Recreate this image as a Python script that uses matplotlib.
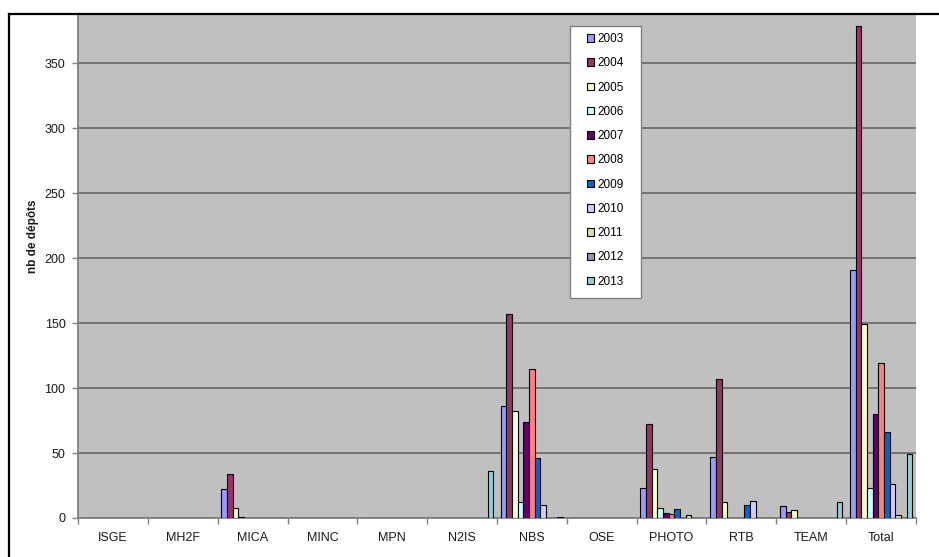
import matplotlib
matplotlib.use("Agg")
import matplotlib.pyplot as plt
from matplotlib.lines import Line2D
from matplotlib.patches import Rectangle
import numpy as np

plt.rcParams['font.family'] = ['Liberation Sans', 'DejaVu Sans']

categories = ["ISGE", "MH2F", "MICA", "MINC", "MPN", "N2IS", "NBS", "OSE",
              "PHOTO", "RTB", "TEAM", "Total"]
years = ["2003", "2004", "2005", "2006", "2007", "2008", "2009", "2010",
         "2011", "2012", "2013"]

# values per year, one entry per category (same order as categories)
v2003 = [0, 0, 22, 0, 0, 0, 86, 0, 23, 47, 9, 191]
v2004 = [0, 0, 34, 0, 0, 0, 157, 0, 72, 107, 5, 379]
v2005 = [0, 0, 8, 0, 0, 0, 82, 0, 38, 12, 6, 149]
v2006 = [0, 0, 1, 0, 0, 0, 12, 0, 8, 0, 0, 23]
v2007 = [0, 0, 0, 0, 0, 0, 74, 0, 4, 0, 0, 80]
v2008 = [0, 0, 0, 0, 0, 0, 115, 0, 3, 0, 0, 119]
v2009 = [0, 0, 0, 0, 0, 0, 46, 0, 7, 10, 0, 66]
v2010 = [0, 0, 0, 0, 0, 0, 10, 0, 0, 13, 0, 26]
v2011 = [0, 0, 0, 0, 0, 0, 0, 0, 2, 0, 0, 2]
v2012 = [0, 0, 0, 0, 0, 0, 0, 0, 0, 0, 0, 0]
v2013 = [0, 0, 0, 0, 0, 36, 1, 0, 0, 0, 12, 49]

series = [v2003, v2004, v2005, v2006, v2007, v2008, v2009, v2010,
          v2011, v2012, v2013]
colors = ["#9999FF", "#993366", "#FFFFCC", "#CCFFFF", "#660066", "#FF8080",
          "#0066CC", "#CCCCFF", "#D6DFA6", "#9F8FB8", "#93CDDD"]

W, H = 939, 557
fig = plt.figure(figsize=(W / 100, H / 100), dpi=100)
ax = fig.add_axes([78/W, 1 - 518/H, (916 - 78)/W, (518 - 14)/H])
ax.set_facecolor("#C0C0C0")

x = np.arange(len(categories))
w = 0.081
n = len(series)
for j, (vals, c, yr) in enumerate(zip(series, colors, years)):
    ax.bar(x + (j - (n - 1) / 2) * w, vals, width=w, color=c,
           edgecolor="black", linewidth=0.8, label=yr, zorder=3)

ax.set_xlim(-0.5, len(categories) - 0.5)
ax.set_ylim(0, 388)
ax.set_yticks(np.arange(0, 351, 50))
ax.yaxis.grid(True, color="#6E6E6E", linewidth=1.3, zorder=1)
ax.set_axisbelow(True)

# category boundaries as major ticks, labels at centres as minor ticks
ax.set_xticks(np.arange(-0.5, len(categories) - 0.49, 1.0))
ax.set_xticklabels([])
ax.set_xticks(x, minor=True)
ax.set_xticklabels(categories, minor=True)
ax.tick_params(axis="x", which="major", length=4, color="#808080", width=1)
ax.tick_params(axis="x", which="minor", length=0, pad=10, labelsize=9,
               labelcolor="#1A1A1A")
ax.tick_params(axis="y", length=4, color="#808080", width=1, pad=5,
               labelsize=9, labelcolor="#1A1A1A")

for s in ["top", "right"]:
    ax.spines[s].set_visible(False)
for s in ["left", "bottom"]:
    ax.spines[s].set_color("#808080")
    ax.spines[s].set_linewidth(1.3)

ax.set_ylabel("nb de dépôts", fontsize=8.5, fontweight="bold", color="#1A1A1A")
ax.yaxis.set_label_coords(-0.046, 0.56)

# legend frame drawn separately, legend entries without frame
frame = Rectangle((570/W, 1 - 298/H), (641 - 570)/W, (298 - 26)/H,
                  transform=fig.transFigure, facecolor="white",
                  edgecolor="#808080", linewidth=1.0, zorder=4)
fig.add_artist(frame)
leg = fig.legend(*ax.get_legend_handles_labels(), loc="upper left",
                 bbox_to_anchor=(587/W, 1 - 33/H), fontsize=8.5, frameon=False,
                 handlelength=0.6, handleheight=0.6, handletextpad=0.3,
                 labelspacing=1.04, borderpad=0, borderaxespad=0)
leg.set_zorder(5)

# outer chart border (top and left)
fig.add_artist(Line2D([9/W, 1.0], [1 - 14/H, 1 - 14/H],
                      transform=fig.transFigure, color="black", linewidth=1.6))
fig.add_artist(Line2D([9/W, 9/W], [0, 1 - 14/H],
                      transform=fig.transFigure, color="black", linewidth=1.6))

fig.savefig("out.png", dpi=100)
